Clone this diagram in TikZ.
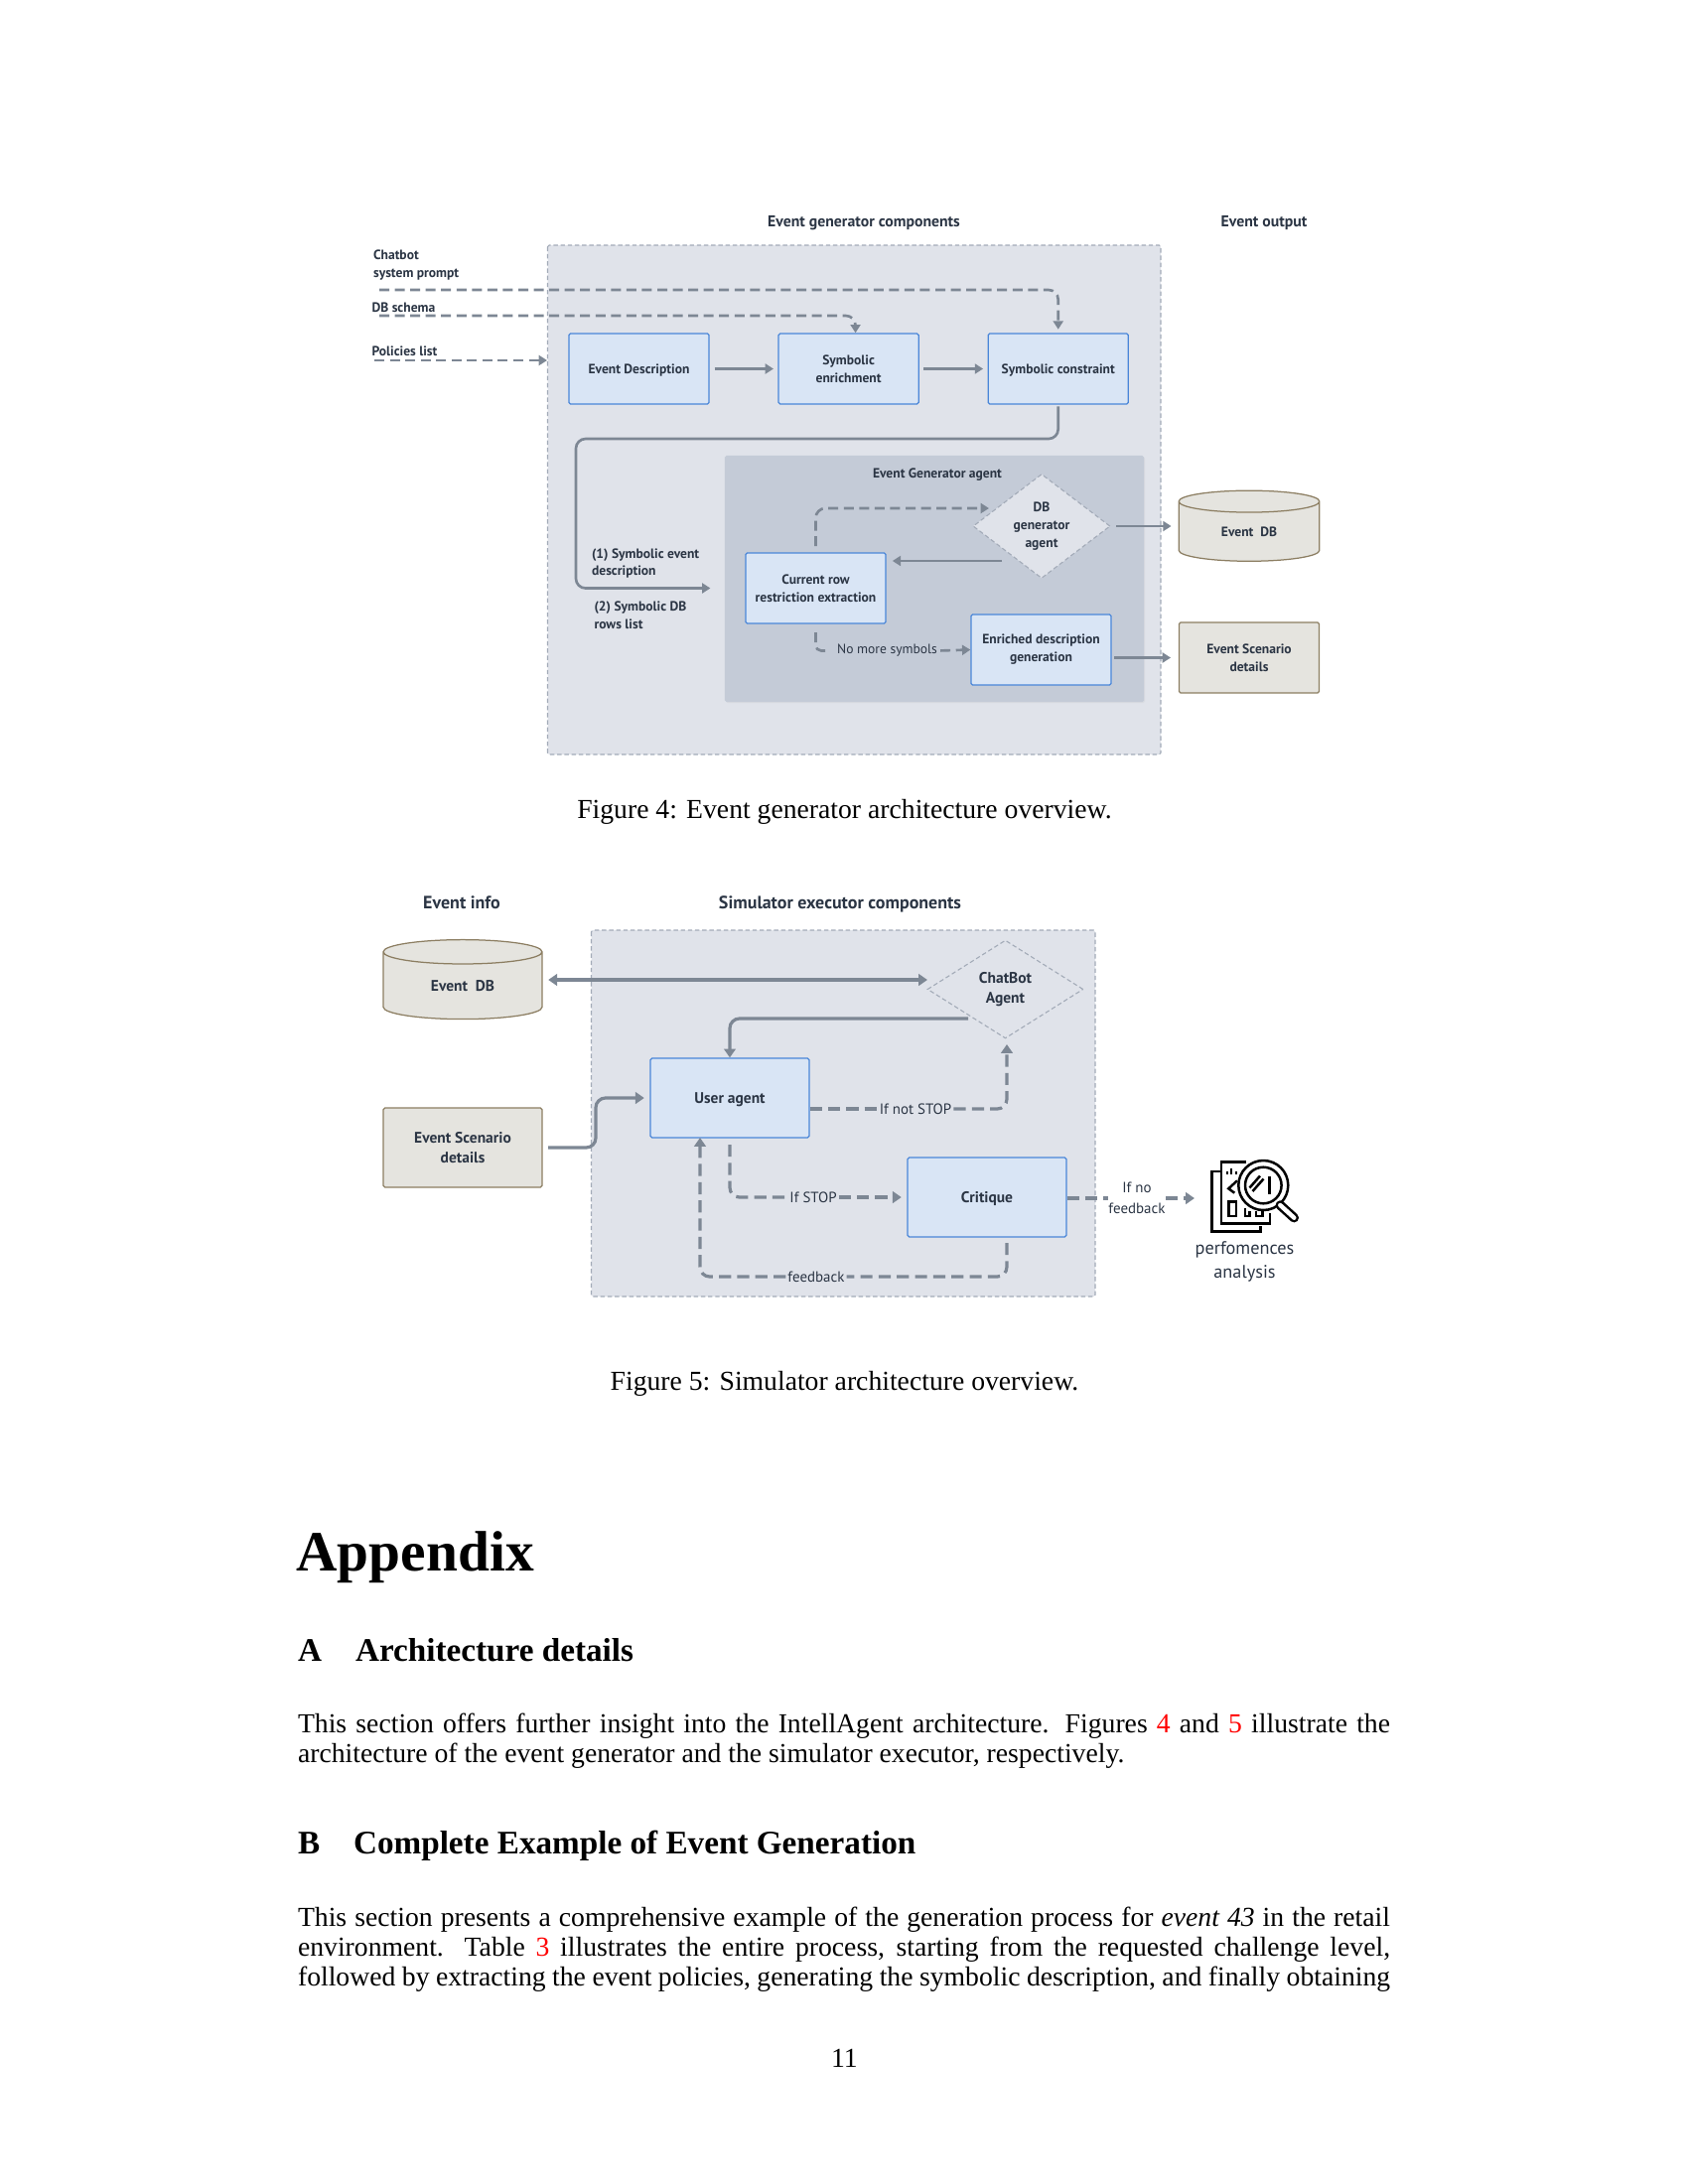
\documentclass[tikz,border=0pt]{standalone}
\usepackage{fontspec}
\setmainfont{Liberation Serif}
\setsansfont{PT Sans}
\usepackage{tikz}
\usetikzlibrary{arrows.meta,shapes.geometric,positioning,shadows}
\definecolor{zone}{HTML}{E0E3EA}
\definecolor{zoneline}{HTML}{A3ABB8}
\definecolor{panel}{HTML}{C4CBD7}
\definecolor{comp}{HTML}{D9E5F5}
\definecolor{compline}{HTML}{4A86D8}
\definecolor{store}{HTML}{E5E4DF}
\definecolor{storeline}{HTML}{8C7E62}
\definecolor{flowline}{HTML}{7D8794}
\definecolor{ink}{HTML}{2B3544}
\newcommand{\headbf}{\sffamily\bfseries\fontsize{5.7}{7}\selectfont}
\newcommand{\simbf}{\sffamily\bfseries\fontsize{6.5}{8}\selectfont}
\newcommand{\smallbf}{\sffamily\bfseries\fontsize{4.9}{6.5}\selectfont}
\newcommand{\smallrm}{\sffamily\fontsize{4.9}{6.5}\selectfont}
\newcommand{\largebf}{\sffamily\bfseries\fontsize{5.6}{7.4}\selectfont}
\newcommand{\largerm}{\sffamily\fontsize{5.4}{7.4}\selectfont}
\newcommand{\perfrm}{\sffamily\fontsize{6.6}{8.4}\selectfont}
\newcommand{\bodyfont}{\fontsize{10}{11}\selectfont}
\newcommand{\secfont}{\bfseries\fontsize{12}{14}\selectfont}
\begin{document}
\begin{tikzpicture}[x=0.36bp, y=-0.36bp, node distance={76bp},
	txt/.style = {inner sep=0pt, text=ink, align=center, font=\smallbf},
	zonebox/.style = {draw=zoneline, fill=zone, line width=0.4bp, dash pattern=on 1.6bp off 1bp, rounded corners=0.6bp},
	compbox/.style = {draw=compline, fill=comp, line width=0.45bp, rounded corners=0.6bp, inner sep=0pt, text=ink, align=center, font=\smallbf, minimum width=50.8bp, minimum height=25.6bp, execute at begin node={\rule{0pt}{4.8bp}}},
	bigbox/.style = {compbox, font=\largebf, minimum width=57.6bp, minimum height=28.8bp, execute at begin node={\rule{0pt}{5.3bp}}},
	scenbox/.style = {compbox, draw=storeline, fill=store},
	bigscen/.style = {bigbox, draw=storeline, fill=store},
	dbstore/.style = {cylinder, shape border rotate=90, draw=storeline, fill=store, line width=0.45bp, inner sep=0pt, text=ink, align=center, font=\smallbf},
	decide/.style = {diamond, draw=zoneline, line width=0.4bp, dash pattern=on 1.6bp off 1bp, inner sep=-5bp, text=ink, align=center, font=\smallbf, execute at begin node={\rule{0pt}{4.8bp}}},
	flow/.style = {draw=flowline, line width=0.95bp, rounded corners=3.5bp, -{Triangle[length=3bp,width=3.6bp]}},
	dflow/.style = {flow, dash pattern=on 3.6bp off 2bp},
	bigflow/.style = {flow, line width=1.15bp, -{Triangle[length=3.2bp,width=4.2bp]}},
	bigdflow/.style = {bigflow, dash pattern=on 4.4bp off 2.2bp},
	plain/.style = {inner sep=0pt, anchor=base, font=\bodyfont},
	sec/.style = {inner sep=0pt, anchor=base west, font=\secfont},
	para/.style = {inner sep=0pt, anchor=north west, text width=396bp, align=justify, font=\bodyfont},
	pen/.style = {draw=black, line width=0.9bp}]
	\useasboundingbox (0,0) rectangle (1700,2200);

	\node[txt, font=\headbf] (genhead) at (870,225) {Event generator components};
	\node[txt, font=\headbf] (outhead) at (1273,225) {Event output};
	\draw[zonebox] (551.5,247) rectangle (1169,760);
	\node[txt, anchor=west, align=left] (promptlbl) at (375.5,267) {Chatbot\\system prompt};
	\node[txt, anchor=west] (schemalbl) at (374,310) {DB schema};
	\node[txt, anchor=west] (policylbl) at (374,354) {Policies list};
	\coordinate (promptin) at (382,292);
	\coordinate (schemain) at (382,318);
	\coordinate (policyin) at (377,363);
	\coordinate (policyto) at (551,363);
	\coordinate (loopleft) at (580,442);

	\node[compbox] (evdesc) at (643.5,371.5) {Event Description};
	\node[compbox] (symenrich) [right of=evdesc] {Symbolic\\enrichment};
	\node[compbox] (symconstr) [right of=symenrich] {Symbolic constraint};

	\node[fill=panel, inner sep=0pt, minimum width=152bp, minimum height=89.3bp, rounded corners=0.6bp, drop shadow={shadow xshift=0.4bp, shadow yshift=-0.4bp, opacity=.08}] (agentpanel) at (941,583) {};
	\node[txt] (agenthead) at (944,478.5) {Event Generator agent};
	\node[decide, fill=zone, aspect=1.31, minimum width=49.7bp, minimum height=37.8bp] (dbgen) at (1049,530) {DB\\generator\\agent};
	\node[compbox] (rowextract) at (821.5,592.5) {Current row\\restriction extraction};
	\node[compbox] (enrichgen) at (1048.5,654.5) {Enriched description\\generation};
	\node[txt, font=\smallrm] (nomore) at (893.5,655.5) {No more symbols};
	\coordinate (dbin) at (996,512);
	\coordinate (dbout) at (1009,565);
	\coordinate (dbright) at (1124,530);

	\node[dbstore, aspect=0.39, minimum width=51bp, minimum height=25.6bp] (evdb) at (1258,535.5) {Event\ \ DB};
	\node[scenbox] (scen) at (1258,662.5) {Event Scenario\\details};

	\node[txt, anchor=west, align=left] (symdesc) at (595.5,567.5) {(1) Symbolic event\\description};
	\node[txt, anchor=west, align=left] (symrows) at (598,619.5) {(2) Symbolic DB\\rows list};

	\draw[dflow] (promptin) -| ([yshift=1.3bp]symconstr.north);
	\draw[dflow] (schemain) -| ([xshift=2.5bp]symenrich.north);
	\draw[dflow] (policyin) -- (policyto);
	\draw[flow, shorten <=1.8bp, shorten >=1.6bp] (evdesc) -- (symenrich);
	\draw[flow, shorten <=1.6bp, shorten >=1.6bp] (symenrich) -- (symconstr);
	\draw[flow, shorten <=0.6bp] (symconstr) |- (loopleft) |- ([xshift=-5bp]agentpanel.west |- rowextract.west);
	\draw[dflow, shorten <=2.2bp] (rowextract.north) |- (dbin);
	\draw[flow] (dbout) -- ([xshift=2.2bp]rowextract.east |- dbout);
	\draw[dflow, shorten <=3bp, rounded corners=2bp, -] (rowextract.south) |- ([xshift=-3bp]nomore.west);
	\draw[dflow, shorten <=1bp] (nomore.east) -- (enrichgen.west);
	\draw[flow] (dbright) -- ([xshift=-2.5bp]evdb.west |- dbright);
	\draw[flow, shorten <=1bp, shorten >=2.8bp] (enrichgen.east |- scen.west) -- (scen.west);

	\node[plain] (figfour) at (850.5,824) {Figure 4: Event generator architecture overview.};

	\node[txt, font=\simbf] (infohead) at (465,909) {Event info};
	\node[txt, font=\simbf] (simhead) at (846,910.5) {Simulator executor components};
	\draw[zonebox] (595.5,937) rectangle (1103,1306);
	\node[dbstore, font=\largebf, aspect=0.38, minimum width=57.6bp, minimum height=28.8bp] (simdb) at (466,993) {Event\ \ DB};
	\node[bigscen] (simscen) at (466,1156) {Event Scenario\\details};
	\node[decide, aspect=1.586, minimum width=56.5bp, minimum height=35.6bp, font=\largebf] (chatbot) at (1012.5,996.5) {ChatBot\\Agent};
	\node[bigbox] (useragent) at (735,1106) {User agent};
	\node[bigbox] (critique) at (994,1206) {Critique};
	\node[txt, font=\largerm, fill=zone, inner sep=0.6bp] (ifnot) at (922,1117) {If not STOP};
	\node[txt, font=\largerm, fill=zone, inner sep=0.6bp] (ifstop) at (819,1206) {If STOP};
	\node[txt, font=\largerm, fill=zone, inner sep=0.6bp] (feedback) at (822,1286) {feedback};
	\node[txt, font=\largerm] (nofeed) at (1145,1207) {If no\\feedback};
	\coordinate (chatfoot) at (975,1026);
	\coordinate (chatarrow) at (934,987);
	\coordinate (jog) at (600,1130);
	\coordinate (critfoot) at (1014,1252);
	\coordinate (chatin) at (1014,1052);
	\coordinate (feedto) at (705,1146);
	\coordinate (stopstart) at (735,1153);
	\coordinate (perfin) at (1203,1207);

	\draw[bigflow, {Triangle[length=3.2bp,width=4.2bp]}-{Triangle[length=3.2bp,width=4.2bp]}, shorten <=2bp] (simdb.east |- chatarrow) -- (chatarrow);
	\draw[bigflow] (chatfoot) -| (useragent.north);
	\draw[bigflow, shorten <=2bp, shorten >=2bp] (simscen.east) -| (jog) |- (useragent.west);
	\draw[bigdflow, -] (useragent.east |- ifnot) -- (ifnot.west);
	\draw[bigdflow] (ifnot.east) -| (chatin);
	\draw[bigdflow, -] (stopstart) |- (ifstop.west);
	\draw[bigdflow, shorten >=2bp] (ifstop.east) -- (critique.west |- ifstop);
	\draw[bigdflow, -] (critfoot) |- (feedback.east);
	\draw[bigdflow] (feedback.west) -| (feedto);
	\draw[bigdflow, -] (critique.east |- nofeed) -- (nofeed.west);
	\draw[bigdflow] (nofeed.east) -- (perfin);

	\draw[pen] (1229,1180) -- (1220.7,1180) -- (1220.7,1240.7) -- (1269.3,1240.7) -- (1269.3,1235);
	\draw[pen] (1255,1170.7) -- (1230,1170.7) -- (1230,1232.3) -- (1279,1232.3) -- (1279,1221.7);
	\draw[pen] (1237.3,1210.7) rectangle (1245,1225);
	\draw[pen] (1254,1216.7) -- (1254,1225) -- (1258.3,1225) -- (1258.3,1220);
	\draw[pen] (1265,1220) -- (1265,1225) -- (1271.7,1225) -- (1271.7,1220);
	\draw[pen] (1236,1180) -- (1236,1183);
	\draw[pen] (1240,1177) -- (1240,1183);
	\draw[pen] (1245,1180) -- (1245,1183);
	\draw[pen] (1246,1189.3) -- (1237.3,1197.3) -- (1243.3,1201.7);
	\draw[pen, fill=white] (1272.3,1194) circle (25);
	\draw[pen] (1272.3,1194) circle (18.3);
	\draw[pen] (1258.5,1196.5) -- (1269,1184.5);
	\draw[pen] (1261.5,1200) -- (1272.5,1187.5);
	\draw[pen] (1278.3,1185) -- (1278.3,1203.3);
	\draw[draw=black, line width=3.4bp, line cap=round] (1289.3,1214) -- (1303.3,1226.7);
	\draw[draw=white, line width=1.6bp, line cap=round] (1289.3,1214) -- (1303.3,1226.7);
	\node[txt, font=\perfrm] (perflbl) at (1253.5,1271) {perfomences\\analysis};

	\node[plain] (figfive) at (850.5,1400) {Figure 5: Simulator architecture overview.};

	\node[inner sep=0pt, anchor=base west, font=\bfseries\fontsize{20.74}{24}\selectfont] (apphead) at (298,1582) {Appendix};
	\node[sec] (secanum) at (299.5,1673.5) {A};
	\node[sec] (secatitle) at (357.5,1673.5) {Architecture details};
	\node[para] (parata) at (299.5,1725) {This section offers further insight into the IntellAgent architecture. Figures {\color{red}4} and {\color{red}5} illustrate the architecture of the event generator and the simulator executor, respectively.};
	\node[sec] (secbnum) at (299.5,1867) {B};
	\node[sec] (secbtitle) at (355.5,1867) {Complete Example of Event Generation};
	\node[para] (paratb) at (299.5,1920) {This section presents a comprehensive example of the generation process for \emph{event 43} in the retail\linebreak environment. Table {\color{red}3} illustrates the entire process, starting from the requested challenge level,\linebreak followed by extracting the event policies, generating the symbolic description, and finally obtaining\parfillskip=0pt\par};
	\node[plain] (pagenum) at (850.5,2082) {11};
\end{tikzpicture}
\end{document}
